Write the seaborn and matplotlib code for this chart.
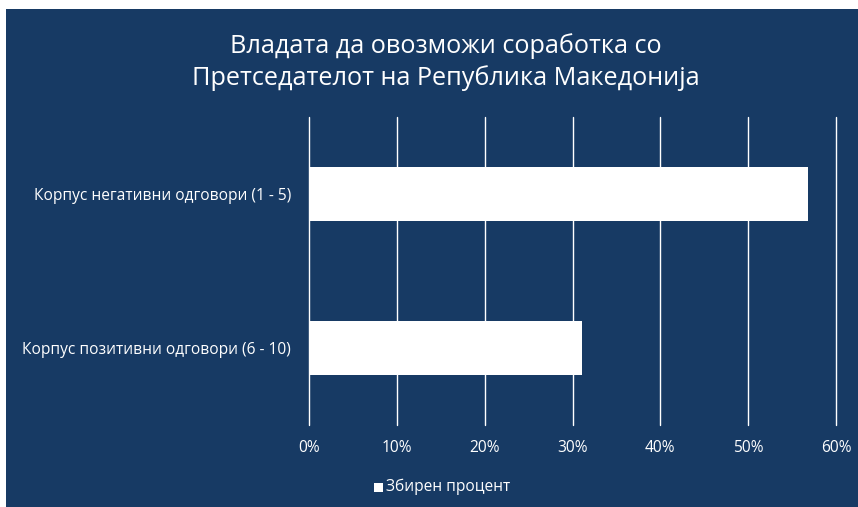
import matplotlib
matplotlib.use('Agg')
import matplotlib.pyplot as plt
import seaborn as sns
import pandas as pd
from matplotlib.patches import Rectangle
from matplotlib.ticker import PercentFormatter

# Податоци
categories = ['Корпус негативни одговори (1 - 5)', 'Корпус позитивни одговори (6 - 10)']
values = [56.8, 31.1]
title = 'Владата да овозможи соработка со\nПретседателот на Република Македонија'
series_name = 'Збирен процент'

bg = '#173A64'

sns.set_theme(style='white')
plt.rcParams['font.family'] = ['Open Sans', 'DejaVu Sans']

df = pd.DataFrame({'cat': categories, 'val': values})

fig = plt.figure(figsize=(8.58, 5.07), dpi=100, facecolor='white')
# сина позадина со тенка бела маргина горе-лево
fig.patches.append(Rectangle((6 / 858, 0), 1, (507 - 9) / 507, transform=fig.transFigure,
                             facecolor=bg, edgecolor='none', zorder=-1))

ax = fig.add_axes([309 / 858, 1 - 425 / 507, (836 - 309) / 858, (425 - 117) / 507])
ax.set_facecolor(bg)

sns.barplot(data=df, y='cat', x='val', orient='h', color='white', width=0.345,
            saturation=1, ax=ax, zorder=3)
for p in ax.patches:
    p.set_edgecolor('none')

ax.set_xlim(0, 60)
ax.set_xticks(range(0, 61, 10))
ax.xaxis.set_major_formatter(PercentFormatter(decimals=0))
ax.grid(True, axis='x', color='white', linewidth=1.0, zorder=0)
ax.grid(False, axis='y')
for gl in ax.get_xgridlines():
    gl.set_clip_on(False)
for s in ax.spines.values():
    s.set_visible(False)
ax.tick_params(axis='both', length=0, colors='white', labelsize=11.2)
ax.tick_params(axis='x', pad=11)
ax.tick_params(axis='y', pad=13)
ax.set_xlabel('')
ax.set_ylabel('')

fig.text(446 / 858, 1 - 62 / 507, title, ha='center', va='center', color='white',
         fontsize=18.2, linespacing=1.3)

# легенда
fig.patches.append(Rectangle((374 / 858, 1 - 492 / 507), 9 / 858, 9 / 507,
                             transform=fig.transFigure, facecolor='white', edgecolor='none'))
fig.text(386 / 858, 1 - 487 / 507, series_name, ha='left', va='center', color='white',
         fontsize=11.2)

fig.savefig('out.png', dpi=100, facecolor=fig.get_facecolor())
